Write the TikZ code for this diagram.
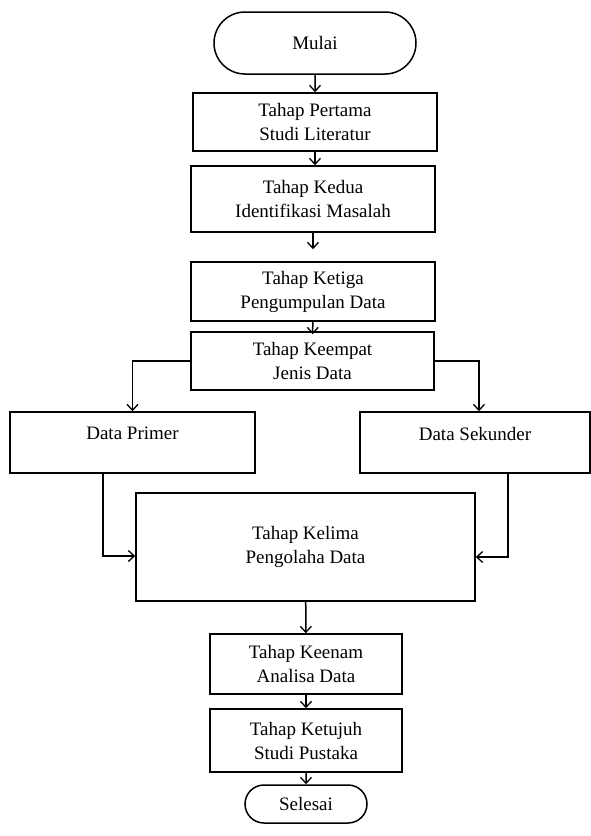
\documentclass[tikz,border=0pt]{standalone}
\usepackage{fontspec}
\setmainfont{Liberation Serif}
\usetikzlibrary{arrows.meta,shapes.misc}

\begin{document}
\begin{tikzpicture}[x=1pt,y=-1pt]
\tikzset{
  stepbox/.style={rectangle,draw,line width=1.5pt,align=center,inner sep=2pt,
    font=\fontsize{19}{24}\selectfont},
  terminal/.style={rounded rectangle,draw,line width=1.5pt,inner sep=2pt,
    font=\fontsize{19}{24}\selectfont},
  flow/.style={-{Straight Barb[length=6pt,width=11pt,line width=1.3pt]},line width=1.5pt}
}
\useasboundingbox (0,0) rectangle (591,836);
\node[terminal,minimum width=206pt,minimum height=62pt] (n_mulai) at (315,43) {Mulai};
\node[stepbox,minimum width=244pt,minimum height=58pt] (n_pertama) at (315,122) {Tahap Pertama\\Studi Literatur};
\node[stepbox,minimum width=244pt,minimum height=66pt] (n_kedua) at (313,199) {Tahap Kedua\\Identifikasi Masalah};
\node[stepbox,minimum width=244pt,minimum height=59pt] (n_ketiga) at (313,291.5) {Tahap Ketiga\\Pengumpulan Data};
\node[stepbox,minimum width=243pt,minimum height=58pt] (n_keempat) at (312.5,361) {Tahap Keempat\\Jenis Data};
\node[stepbox,minimum width=245pt,minimum height=61pt,text depth=18pt] (n_primer) at (132.5,442.5) {Data Primer};
\node[stepbox,minimum width=230pt,minimum height=61pt,text depth=18pt] (n_sekunder) at (475,442.5) {Data Sekunder};
\node[stepbox,minimum width=339pt,minimum height=108pt] (n_kelima) at (305.5,547) {Tahap Kelima\\Pengolaha Data};
\node[stepbox,minimum width=192pt,minimum height=60pt] (n_keenam) at (306,664) {Tahap Keenam\\Analisa Data};
\node[stepbox,minimum width=192pt,minimum height=63pt] (n_ketujuh) at (306,740.5) {Tahap Ketujuh\\Studi Pustaka};
\node[terminal,minimum width=126pt,minimum height=38pt] (n_selesai) at (306,804) {Selesai};
\draw[flow] (n_mulai) -- (n_pertama);
\draw[flow] (n_pertama.south) -- (n_pertama.south |- n_kedua.north);
\draw[flow,shorten >=12pt] (n_kedua) -- (n_ketiga);
\draw[flow,shorten >=-3pt] (n_ketiga) -- (n_keempat);
\draw[flow] (n_keempat.west) -| (n_primer.north);
\draw[flow] (n_keempat.east) -| ([xshift=4pt]n_sekunder.north);
\draw[flow] ([xshift=-29.5pt]n_primer.south) |- ([yshift=-9pt]n_kelima.west);
\draw[flow] ([xshift=33pt]n_sekunder.south) |- ([yshift=-10pt]n_kelima.east);
\draw[flow] (n_kelima) -- (n_keenam);
\draw[flow] (n_keenam) -- (n_ketujuh);
\draw[flow] (n_ketujuh) -- (n_selesai);
\end{tikzpicture}
\end{document}
